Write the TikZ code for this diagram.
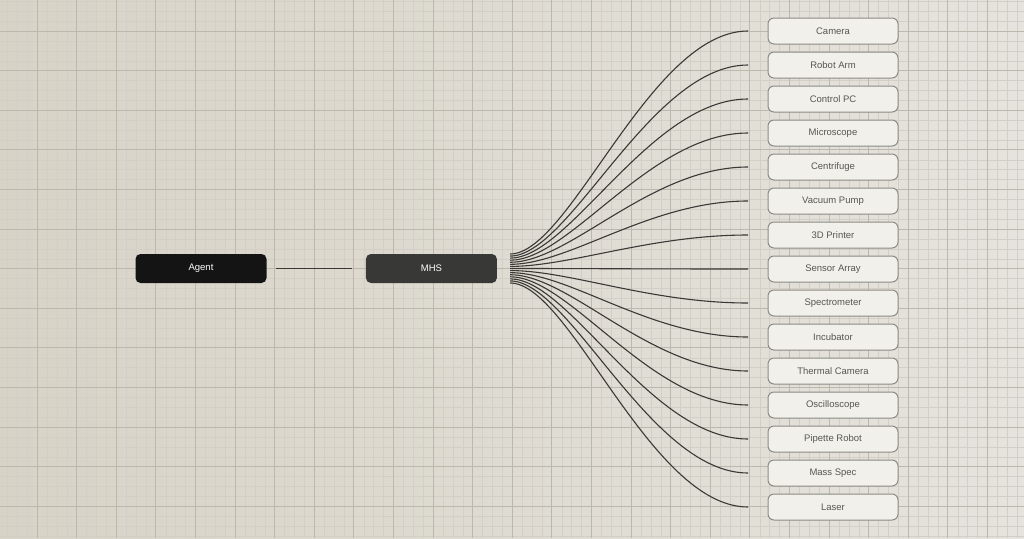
\documentclass[tikz,border=0pt]{standalone}
\usepackage{fontspec}
\setmainfont{Liberation Sans}
\usepackage{tikz}
\usetikzlibrary{positioning,chains}
\definecolor{bgleft}{HTML}{D8D3C7}
\definecolor{bgright}{HTML}{E5E3DD}
\definecolor{gmajor}{HTML}{BDB8AE}
\definecolor{gminor}{HTML}{D3CFC6}
\definecolor{agentblack}{HTML}{141414}
\definecolor{mhsgray}{HTML}{383836}
\definecolor{devfill}{HTML}{F2F0EB}
\definecolor{devdraw}{HTML}{8C8A84}
\definecolor{devtext}{HTML}{57564F}
\definecolor{wire}{HTML}{3A3936}

\begin{document}
\begin{tikzpicture}[x=1pt,y=-1pt,
		darknode/.style={rounded corners=5pt,minimum width=131pt,minimum height=29pt,
			inner sep=0pt,text=white,font=\fontsize{9.5}{11}\selectfont},
		devnode/.style={draw=devdraw,fill=devfill,line width=1pt,rounded corners=6pt,
			minimum width=130pt,minimum height=26pt,inner sep=0pt,text=devtext,
			font=\fontsize{9.5}{11}\selectfont},
		fanline/.style={wire,line width=1.1pt},
		majorline/.style={gmajor,line width=0.8pt},
		minorline/.style={gminor,line width=0.3pt}
	]

	% the paper
	\useasboundingbox (0,0) rectangle (1024,538);
	\clip (0,0) rectangle (1024,538);
	\fill[left color=bgleft,right color=bgright] (0,0) rectangle (1024,538);
	\foreach \k in {-1,...,25}
		\foreach \m in {1,2,3}
			\draw[minorline] ({37+39.6*\k+9.9*\m},0) -- ({37+39.6*\k+9.9*\m},538);
	\foreach \k in {-1,...,13}
		\foreach \m in {1,2,3}
			\draw[minorline] (0,{31+39.6*\k+9.9*\m}) -- (1024,{31+39.6*\k+9.9*\m});
	\foreach \k in {-1,...,25}
		\draw[majorline] ({37+39.6*\k},0) -- ({37+39.6*\k},538);
	\foreach \k in {-1,...,13}
		\draw[majorline] (0,{31+39.6*\k}) -- (1024,{31+39.6*\k});

	% the agent and the MHS
	\node[darknode,fill=agentblack] (agent) at (201,268.5) {Agent};
	\node[darknode,fill=mhsgray,right=99pt of agent] (mhs) {MHS};

	% the devices
	\begin{scope}[shift={(833,31)},start chain=going below,node distance=7pt]
		\foreach \name [count=\i] in {Camera,Robot Arm,Control PC,Microscope,Centrifuge,
			Vacuum Pump,3D Printer,Sensor Array,Spectrometer,Incubator,Thermal Camera,
			Oscilloscope,Pipette Robot,Mass Spec,Laser}
		\node[devnode,on chain] (d\i) {\name};
	\end{scope}

	% the edges
	\draw[wire,line width=1.2pt,shorten <=9pt,shorten >=14pt] (agent) -- (mhs);
	\foreach \i in {1,...,15} {
		\coordinate (s\i) at ([xshift=13pt,yshift={14.5pt-2.07pt*(\i-1)}]mhs.east);
		\coordinate (e\i) at ([xshift=-19.5pt]d\i.west);
		\draw[fanline] (s\i) .. controls +(60,0) and +(-98,0) .. (e\i);
	}
\end{tikzpicture}
\end{document}
